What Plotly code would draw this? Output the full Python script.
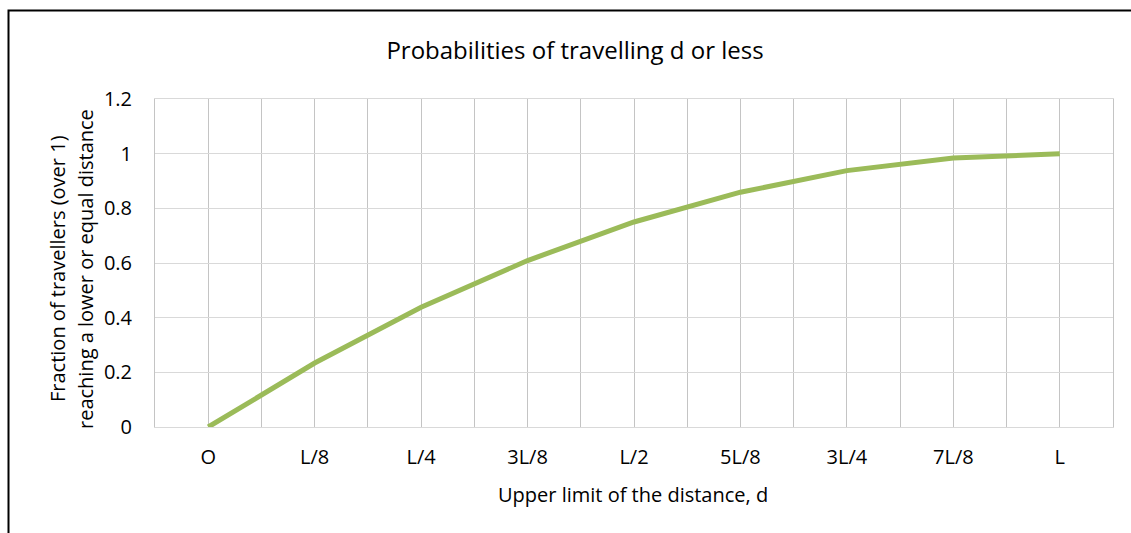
import plotly.graph_objects as go

categories = ["O", "L/8", "L/4", "3L/8", "L/2", "5L/8", "3L/4", "7L/8", "L"]
fraction = [0.0, 0.234, 0.438, 0.609, 0.75, 0.859, 0.938, 0.984, 1.0]
y_ticks = [0, 0.2, 0.4, 0.6, 0.8, 1.0, 1.2]
y_tick_text = ["0", "0.2", "0.4", "0.6", "0.8", "1", "1.2"]

W, H = 1131, 533
L, R, T, B = 155, 18, 99, 106
PW, PH = W - L - R, H - T - B

def px_x(p):
    return (p - L) / PW

def px_y(p):
    return (H - B - p) / PH

xpos = list(range(len(categories)))
# ticks every half category: labels at category centres, blanks at boundaries
tickvals = []
ticktext = []
for i, c in enumerate(categories):
    tickvals.append(i - 0.5)
    ticktext.append("")
    tickvals.append(i)
    ticktext.append(c)
tickvals.append(len(categories) - 0.5)
ticktext.append("")

FONT = "Open Sans"
FS = 20

fig = go.Figure()
fig.add_trace(go.Scatter(
    x=xpos, y=fraction, mode="lines",
    line=dict(color="#9bbb59", width=5),
    hoverinfo="skip", showlegend=False,
))

fig.update_layout(
    width=W, height=H,
    margin=dict(l=L, r=R, t=T, b=B, pad=0),
    paper_bgcolor="white", plot_bgcolor="white",
    font=dict(family=FONT, size=FS, color="#000000"),
    title=dict(text="Probabilities of travelling d or less",
               font=dict(family=FONT, size=24, color="#000000"),
               x=575 / W, xanchor="center", xref="container",
               y=1 - 51 / H, yanchor="middle", yref="container"),
    xaxis=dict(range=[-0.5, len(categories) - 0.5], tickmode="array",
               tickvals=tickvals, ticktext=ticktext, showgrid=True,
               gridcolor="#c4c4c4", gridwidth=1, zeroline=False,
               showline=True, mirror=True, linecolor="#d9d9d9", linewidth=1,
               ticks="", ticklabelstandoff=12, fixedrange=True),
    yaxis=dict(range=[0, 1.2], tickmode="array", tickvals=y_ticks,
               ticktext=y_tick_text, showgrid=True, gridcolor="#d9d9d9",
               gridwidth=1, zeroline=False, showline=True, mirror=True,
               linecolor="#c4c4c4", linewidth=1, ticks="",
               ticklabelstandoff=18, fixedrange=True),
)

fig.add_annotation(text="Upper limit of the distance, d", xref="paper", yref="paper",
                   x=px_x(633), y=px_y(494), xanchor="center", yanchor="middle",
                   showarrow=False, font=dict(family=FONT, size=FS))
fig.add_annotation(text="Fraction of travellers (over 1)", xref="paper", yref="paper",
                   x=px_x(57), y=px_y(269), xanchor="center", yanchor="middle",
                   textangle=-90, showarrow=False, font=dict(family=FONT, size=FS))
fig.add_annotation(text="reaching a lower or equal distance", xref="paper", yref="paper",
                   x=px_x(85), y=px_y(269), xanchor="center", yanchor="middle",
                   textangle=-90, showarrow=False, font=dict(family=FONT, size=FS))

# chart-area border (left and top edges visible in the crop)
fig.add_shape(type="path", xref="paper", yref="paper",
              path=f"M {px_x(8.5)} {px_y(560)} L {px_x(8.5)} {px_y(10.5)} L {px_x(1160)} {px_y(10.5)}",
              line=dict(color="#000000", width=2))

fig.write_html("out.html")
